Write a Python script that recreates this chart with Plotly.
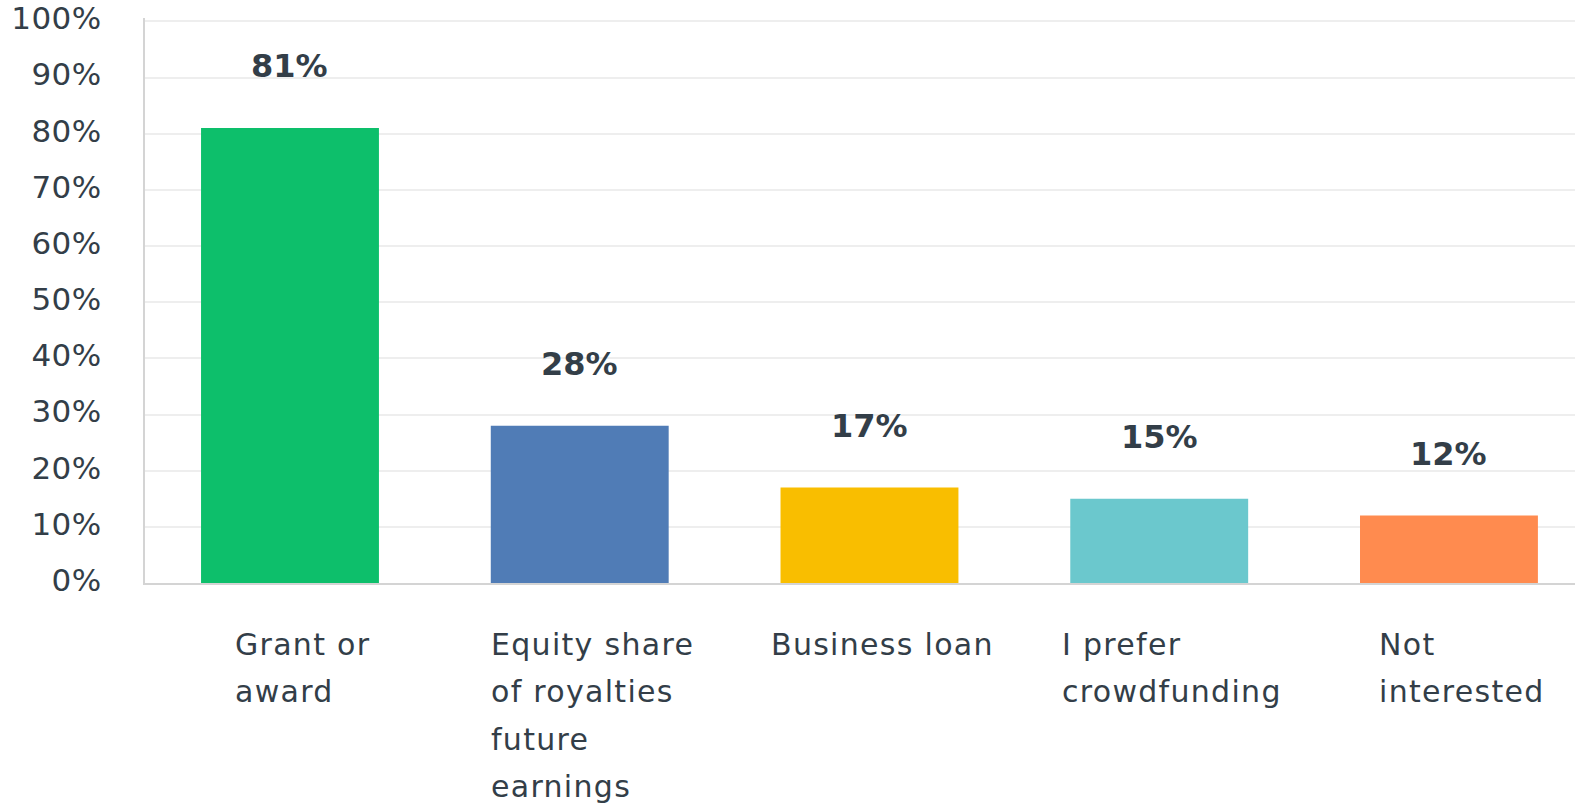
import plotly.graph_objects as go

# Survey responses: preferred form of funding
categories = ["Grant or award", "Equity share of royalties future earnings",
              "Business loan", "I prefer crowdfunding", "Not interested"]
category_lines = [["Grant or", "award"],
                  ["Equity share", "of royalties", "future", "earnings"],
                  ["Business loan"],
                  ["I prefer", "crowdfunding"],
                  ["Not", "interested"]]
percentages = [81, 28, 17, 15, 12]
bar_colors = ["#0DBF6B", "#507CB6", "#F9BE00", "#6BC8CD", "#FF8B4F"]
y_ticks = list(range(0, 101, 10))
y_tick_text = [f"{t}%" for t in y_ticks]

TEXT_COLOR = "#333E48"
FONT = "DejaVu Sans"
LABEL_SIZE = 30
LETTER_SPACING = 1.3   # px, category text
TICK_SPACING = 0.5     # px, y tick text
LINE_GAP = 47.3        # px between category label lines

# DejaVu Sans advance widths (font units, 2048 per em) for measuring label lines
ADV = {" ": 651, "%": 1946, "A": 1401, "B": 1405, "E": 1294, "G": 1577,
       "I": 604, "N": 1532, "a": 1255, "b": 1300, "c": 1126, "d": 1300,
       "e": 1260, "f": 721, "g": 1300, "h": 1298, "i": 569, "l": 569,
       "n": 1298, "o": 1253, "p": 1300, "r": 842, "s": 1067, "t": 803,
       "u": 1298, "w": 1675, "y": 1212, "q": 1300}


def text_width(s, size, spacing):
    return sum(ADV.get(ch, 1250) for ch in s) * size / 2048 + spacing * len(s)


def spaced(s, spacing):
    return f"<span style='letter-spacing:{spacing}px'>{s}</span>"


fig = go.Figure()
fig.add_trace(go.Bar(
    x=list(range(len(categories))),
    y=percentages,
    marker=dict(color=bar_colors, line=dict(width=0)),
    hovertext=categories,
    hoverinfo="text+y",
))

annotations = []
# value labels above bars
for i, v in enumerate(percentages):
    annotations.append(dict(
        x=i, y=v, xref="x", yref="y", text=f"<b>{v}%</b>",
        showarrow=False, yanchor="middle", yshift=62,
        font=dict(family=FONT, size=32, color=TEXT_COLOR),
    ))

# category labels under the axis: a left-aligned block of lines, centred
# (slightly right) under each bar
for i, lines in enumerate(category_lines):
    block_w = max(text_width(ln, LABEL_SIZE, LETTER_SPACING) for ln in lines)
    for k, ln in enumerate(lines):
        annotations.append(dict(
            x=i, y=0, xref="x", yref="paper", text=spaced(ln, LETTER_SPACING),
            showarrow=False, yanchor="top", xanchor="left", align="left",
            xshift=12 - block_w / 2, yshift=-43 - k * LINE_GAP,
            borderpad=0,
            font=dict(family=FONT, size=LABEL_SIZE, color=TEXT_COLOR),
        ))

fig.update_layout(
    width=1575, height=807,
    margin=dict(l=145, r=0, t=13, b=224),
    paper_bgcolor="white", plot_bgcolor="white",
    bargap=0.386,
    showlegend=False,
    annotations=annotations,
    xaxis=dict(range=[-0.5004, 4.435], showticklabels=False, showgrid=False,
               zeroline=False, showline=True, linecolor="#D4D4D4", linewidth=2,
               fixedrange=True),
    yaxis=dict(range=[0, 100.6], tickvals=y_ticks,
               ticktext=[spaced(t, TICK_SPACING) for t in y_tick_text],
               ticklabeloverflow="allow", ticklabelshift=-3,
               showgrid=True, gridcolor="#EEEEEE", gridwidth=2,
               zeroline=False, showline=True, linecolor="#D4D4D4", linewidth=2,
               ticks="outside", ticklen=35, tickcolor="rgba(0,0,0,0)",
               tickfont=dict(family=FONT, size=31, color=TEXT_COLOR),
               fixedrange=True),
)

fig.write_html("out.html")
